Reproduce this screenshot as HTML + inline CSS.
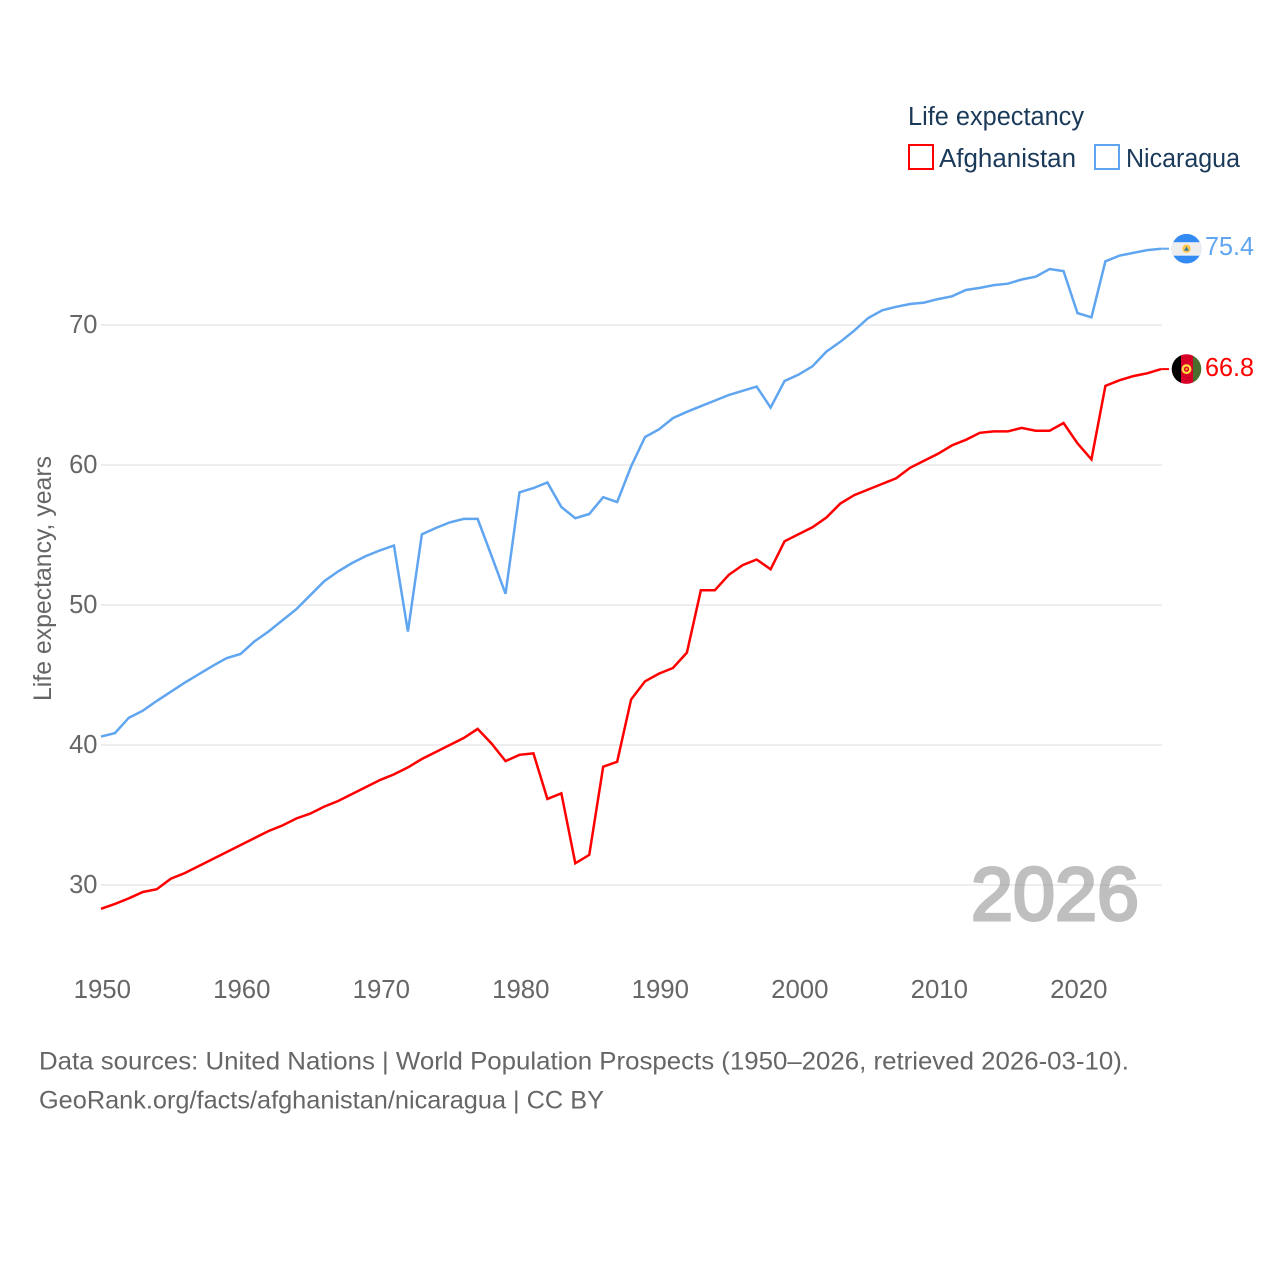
<!DOCTYPE html>
<html lang="en">
<head>
<meta charset="utf-8">
<title>Life expectancy: Afghanistan and Nicaragua</title>
<style>
html,body{margin:0;padding:0;background:#fff;width:1280px;height:1280px;overflow:hidden}
svg{display:block}
text{font-family:"Liberation Sans",sans-serif}
</style>
</head>
<body>
<svg id="chart" width="1280" height="1280" viewBox="0 0 1280 1280" xmlns="http://www.w3.org/2000/svg">
  <defs>
    <clipPath id="flag-clip"><circle cx="0" cy="0" r="14.8"></circle></clipPath>
  </defs>
  <rect x="0" y="0" width="1280" height="1280" fill="#fff"></rect>

  <g id="grid"></g>
  <g id="y-ticks"></g>
  <g id="x-ticks"></g>

  <text transform="translate(51,578.5) rotate(-90)" text-anchor="middle" font-size="25" fill="#666" textLength="245" lengthAdjust="spacingAndGlyphs">Life expectancy, years</text>

  <text x="971" y="920" font-size="75" fill="#8c8c8c" stroke="#8c8c8c" stroke-width="3" opacity="0.55" textLength="168" lengthAdjust="spacingAndGlyphs">2026</text>

  <g id="series"></g>
  <g id="end-markers"></g>

  <g>
    <text x="908" y="125" font-size="25.5" fill="#1b3a5a" textLength="176" lengthAdjust="spacingAndGlyphs">Life expectancy</text>
    <g>
      <rect x="909" y="145" width="24" height="24" fill="#fff" stroke="#ff0000" stroke-width="2"></rect>
      <text x="939" y="167" font-size="25.5" fill="#1b3a5a" textLength="137" lengthAdjust="spacingAndGlyphs">Afghanistan</text>
    </g>
    <g>
      <rect x="1095" y="145" width="24" height="24" fill="#fff" stroke="#60a5f0" stroke-width="2"></rect>
      <text x="1126" y="167" font-size="25.5" fill="#1b3a5a" textLength="114" lengthAdjust="spacingAndGlyphs">Nicaragua</text>
    </g>
  </g>

  <text x="39" y="1069.5" font-size="25" fill="#666" textLength="1090" lengthAdjust="spacingAndGlyphs">Data sources: United Nations | World Population Prospects (1950–2026, retrieved 2026-03-10).</text>
  <text x="39" y="1108.5" font-size="25" fill="#666" textLength="565" lengthAdjust="spacingAndGlyphs">GeoRank.org/facts/afghanistan/nicaragua | CC BY</text>
</svg>

<script>
var years = [1950,1951,1952,1953,1954,1955,1956,1957,1958,1959,1960,1961,1962,1963,1964,1965,1966,1967,1968,1969,1970,1971,1972,1973,1974,1975,1976,1977,1978,1979,1980,1981,1982,1983,1984,1985,1986,1987,1988,1989,1990,1991,1992,1993,1994,1995,1996,1997,1998,1999,2000,2001,2002,2003,2004,2005,2006,2007,2008,2009,2010,2011,2012,2013,2014,2015,2016,2017,2018,2019,2020,2021,2022,2023,2024,2025,2026];
var afghanistanValues = [28.3,28.65,29.05,29.5,29.7,30.45,30.85,31.35,31.85,32.35,32.85,33.35,33.85,34.25,34.75,35.1,35.6,36.0,36.5,37.0,37.5,37.9,38.4,39.0,39.5,40.0,40.5,41.15,40.1,38.85,39.3,39.4,36.15,36.55,31.55,32.15,38.45,38.8,43.25,44.55,45.1,45.5,46.6,51.05,51.05,52.15,52.85,53.25,52.55,54.55,55.05,55.55,56.25,57.25,57.85,58.25,58.65,59.05,59.8,60.3,60.8,61.4,61.8,62.3,62.4,62.4,62.65,62.45,62.45,63.0,61.55,60.4,65.65,66.05,66.35,66.55,66.85];
var nicaraguaValues = [40.6,40.85,41.95,42.45,43.15,43.8,44.45,45.05,45.65,46.2,46.5,47.4,48.1,48.9,49.7,50.7,51.7,52.4,53.0,53.5,53.9,54.25,48.1,55.05,55.5,55.9,56.15,56.15,53.5,50.8,58.05,58.35,58.75,57.0,56.2,56.5,57.7,57.35,59.9,62.0,62.55,63.35,63.8,64.2,64.6,65.0,65.3,65.6,64.1,66.0,66.45,67.05,68.1,68.8,69.6,70.5,71.05,71.3,71.5,71.6,71.85,72.05,72.5,72.65,72.85,72.95,73.25,73.45,74.0,73.85,70.85,70.55,74.55,74.95,75.15,75.35,75.45];
var yTickValues = [30,40,50,60,70];
var xTickValues = [1950,1960,1970,1980,1990,2000,2010,2020];
var afghanistanLabel = "66.8";
var nicaraguaLabel = "75.4";

var NS = "http://www.w3.org/2000/svg";
var gridLeft = 101, gridRight = 1162, flagX = 1186.5;
function xScale(year){ return 101 + (year - 1950) * 13.95; }
function yScale(v){ return 885 - (v - 30) * 14; }

function make(tag, attrs, parent){
  var el = document.createElementNS(NS, tag);
  for (var k in attrs) el.setAttribute(k, attrs[k]);
  parent.appendChild(el);
  return el;
}

var gridG = document.getElementById('grid');
var yG = document.getElementById('y-ticks');
var xG = document.getElementById('x-ticks');
var seriesG = document.getElementById('series');
var markerG = document.getElementById('end-markers');

yTickValues.forEach(function(v){
  var line = make('line', {x1: gridLeft, x2: gridRight, y1: yScale(v), y2: yScale(v), stroke: '#eeeeee', 'stroke-width': 2}, gridG);
  
  
  var t = make('text', {x: 97.5, y: yScale(v) + 8, 'text-anchor': 'end', 'font-size': 25.5, fill: '#666'}, yG);
  
  
  t.textContent = v;
});

xTickValues.forEach(function(y){
  var t = make('text', {x: xScale(y) + 1.3, y: 998, 'text-anchor': 'middle', 'font-size': 25.8, fill: '#666'}, xG);
  
  
  t.textContent = y;
});

function pathFor(values){
  return values.map(function(v, i){
    return (i ? 'L' : 'M') + xScale(years[i]).toFixed(2) + ' ' + yScale(v).toFixed(2);
  }).join(' ');
}

var afghanLine = make('path', {d: pathFor(afghanistanValues), fill: 'none', stroke: '#ff0000', 'stroke-width': 2.5, 'stroke-linejoin': 'miter'}, seriesG);



var nicaraguaLine = make('path', {d: pathFor(nicaraguaValues), fill: 'none', stroke: '#60a5f0', 'stroke-width': 2.5, 'stroke-linejoin': 'miter'}, seriesG);



function endConnector(values, color, name){
  var last = yScale(values[values.length - 1]);
  var c = make('line', {x1: xScale(2026), x2: 1169, y1: last, y2: last, stroke: color, 'stroke-width': 2}, markerG);
  
  
  return last;
}

/* Nicaragua end marker */
var nicY = endConnector(nicaraguaValues, '#60a5f0', 'connector-nicaragua');
var nicFlag = make('g', {transform: 'translate(' + flagX + ',' + nicY + ')', 'clip-path': 'url(#flag-clip)'}, markerG);


make('rect', {x: -16, y: -16, width: 32, height: 32, fill: '#338af3'}, nicFlag);
make('rect', {x: -16, y: -6.5, width: 32, height: 13.5, fill: '#eeeeee'}, nicFlag);
make('circle', {cx: 0, cy: 0, r: 4.2, fill: '#ffc84a'}, nicFlag);
make('polygon', {points: '-2.5,2 2.5,2 0,-2.5', fill: '#3d7a9e'}, nicFlag);

var nicLabel = make('text', {x: 1205, y: nicY + 6.5, 'font-size': 25.5, fill: '#60a5f0', textLength: 49, lengthAdjust: 'spacingAndGlyphs'}, markerG);


nicLabel.textContent = nicaraguaLabel;

/* Afghanistan end marker */
var afgY = endConnector(afghanistanValues, '#ff0000', 'connector-afghanistan');
var afgFlag = make('g', {transform: 'translate(' + flagX + ',' + afgY + ')', 'clip-path': 'url(#flag-clip)'}, markerG);


make('rect', {x: -16, y: -16, width: 11, height: 32, fill: '#000000'}, afgFlag);
make('rect', {x: -5.5, y: -16, width: 12.5, height: 32, fill: '#d80027'}, afgFlag);
make('rect', {x: 6.5, y: -16, width: 10, height: 32, fill: '#496e2d'}, afgFlag);
make('circle', {cx: 0, cy: 0, r: 3.8, fill: 'none', stroke: '#ffda44', 'stroke-width': 2.4}, afgFlag);
make('circle', {cx: 0, cy: 0, r: 1.2, fill: '#ffb020'}, afgFlag);

var afgLabel = make('text', {x: 1205, y: afgY + 7, 'font-size': 25.5, fill: '#ff0000', textLength: 49, lengthAdjust: 'spacingAndGlyphs'}, markerG);


afgLabel.textContent = afghanistanLabel;
</script>
</body>
</html>
